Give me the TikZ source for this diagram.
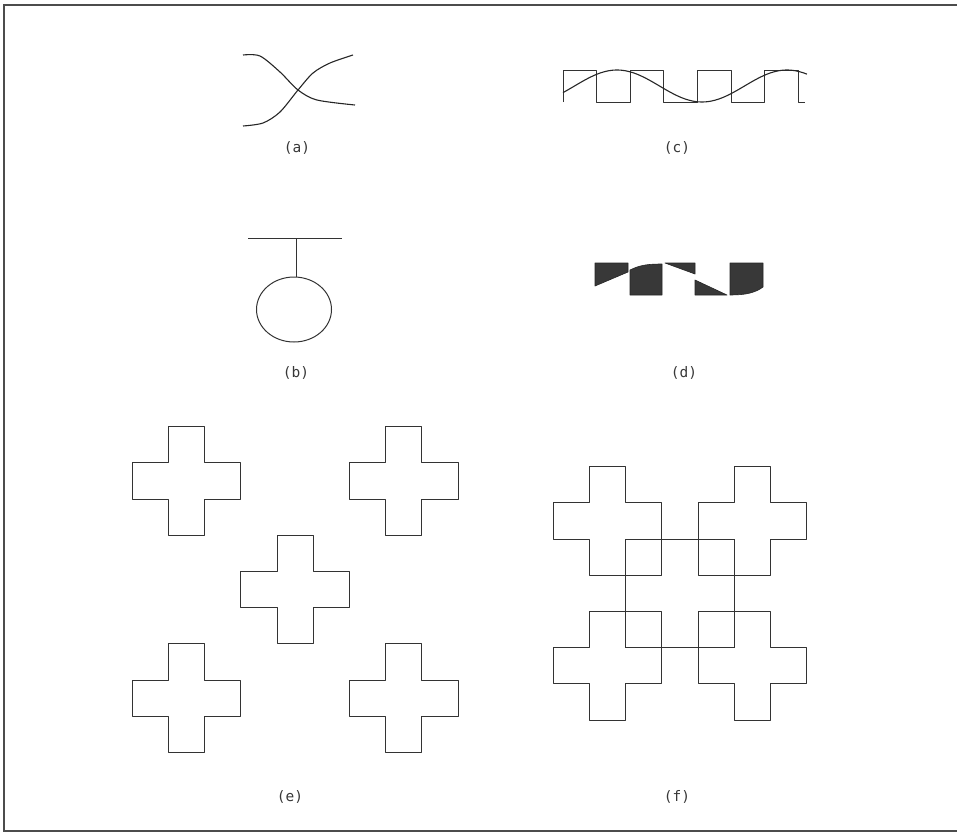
\documentclass[tikz,border=0pt]{standalone}
\usepackage{fontspec}
\usepackage{tikz}
\newfontfamily\lblfont{DejaVu Sans Mono}

\begin{document}
\begin{tikzpicture}[
  x=1pt, y=-1pt,
  frame/.style={draw=black!70, line width=1.2pt},
  line/.style={draw=black!80, line width=1pt, line join=round},
  wave/.style={draw=black!85, line width=1.1pt, line join=round},
  blk/.style={fill=black!78, draw=black!85, line width=0.6pt, line join=round},
  lbl/.style={font=\lblfont\fontsize{14.5}{17}\selectfont, text=black!78, inner sep=1pt},
  plus/.pic={
    \draw[line] (-0.5,-1.5) -- (0.5,-1.5) -- (0.5,-0.5) -- (1.5,-0.5) -- (1.5,0.5)
      -- (0.5,0.5) -- (0.5,1.5) -- (-0.5,1.5) -- (-0.5,0.5) -- (-1.5,0.5)
      -- (-1.5,-0.5) -- (-0.5,-0.5) -- cycle;
  },
]

\def\cell{36.2}
\def\ex{186.5} \def\ey{481}   % (e) top-left cross
\def\fx{607.5} \def\fy{521}   % (f) top-left cross

\useasboundingbox (0,0) rectangle (957,833);

% frame (open on the right)
\draw[frame] (957,5) -- (4,5) -- (4,831) -- (957,831);

% --- (a) two crossing curves ---
\draw[wave] plot[smooth] coordinates {(243,55) (260,56) (280,72) (298,90) (317,100) (355,105)};
\draw[wave] plot[smooth] coordinates {(243,126) (263,123) (280,112) (298,90) (313,73) (330,63) (353,55)};
\node[lbl] (la) at (297,148) {(a)};

% --- (c) square wave and sine ---
\draw[line] (563,102) |- (596.6,70) |- (630.2,102) |- (663.8,70) |- (697.4,102)
  |- (731,70) |- (764.6,102) |- (798.2,70) |- (805,102);
\draw[wave] plot[domain=563:807, samples=80, smooth] (\x, {86-16*cos((\x-617)/170*360)});
\node[lbl] (lc) at (677,148) {(c)};

% --- (b) bar and ring ---
\draw[line] (248,238) -- (342,238);
\draw[line] (296,238) -- (296,277);
\draw[line] (294,309.5) ellipse [x radius=37.5, y radius=32.5];
\node[lbl] (lb) at (296,373) {(b)};

% --- (d) filled pieces ---
\fill[blk] (595,263) -- (628,263) -- (628,272) -- (595,286) -- cycle;
\fill[blk] (630,295) -- (630,270) .. controls (640,265) and (648,264) .. (662,264) -- (662,295) -- cycle;
\fill[blk] (665,263) -- (695,263) -- (695,274) -- cycle;
\fill[blk] (695,280) -- (695,295) -- (727,295) -- cycle;
\fill[blk] (730,263) -- (763,263) -- (763,287) .. controls (755,293) and (745,295) .. (730,295) -- cycle;
\node[lbl] (ld) at (684,373) {(d)};

% --- (e) five crosses ---
\foreach \i/\j in {0/0, 6/0, 3/3, 0/6, 6/6}
  \pic[scale=\cell] at (\ex+\i*\cell, \ey+\j*\cell) {plus};
\node[lbl] (le) at (290,797) {(e)};

% --- (f) four crosses round a square ---
\foreach \i/\j in {0/0, 4/0, 0/4, 4/4}
  \pic[scale=\cell] at (\fx+\i*\cell, \fy+\j*\cell) {plus};
\draw[line] (\fx+0.5*\cell, \fy+0.5*\cell) rectangle (\fx+3.5*\cell, \fy+3.5*\cell);
% corner cells of the square
\foreach \i/\j in {0/0, 2/0, 0/2, 2/2}
  \draw[line] (\fx+0.5*\cell+\i*\cell, \fy+0.5*\cell+\j*\cell) rectangle ++(\cell,\cell);
\node[lbl] (lf) at (677,797) {(f)};

\end{tikzpicture}
\end{document}
